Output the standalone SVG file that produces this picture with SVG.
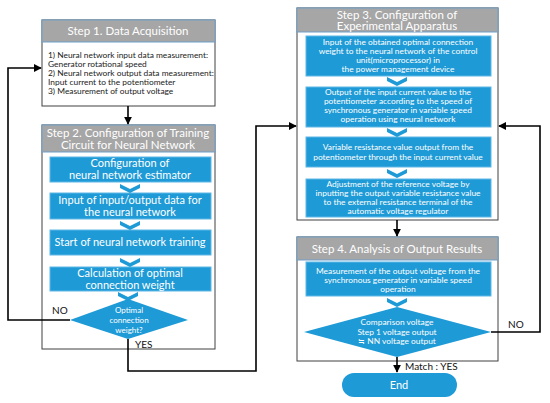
<svg xmlns="http://www.w3.org/2000/svg" width="550" height="403" viewBox="0 0 550 403">
<defs>
<marker id="ah" viewBox="0 0 10 10" refX="9" refY="5" markerWidth="5" markerHeight="5" orient="auto"><path d="M0,0 L10,5 L0,10 z" fill="#000"/></marker>
<style>
.outer{fill:#fff;stroke:#404040;stroke-width:1}
.hdr{fill:#a6a6a6;stroke:#6f9fc8;stroke-width:1}
.ht{font-family:Lato,"Noto Sans",sans-serif;font-size:11.5px;fill:#fff;text-anchor:middle}
.bx{fill:#1e9ad6;stroke:#5fb8e6;stroke-width:1}
.bt{font-family:Lato,"Noto Sans",sans-serif;fill:#fff;text-anchor:middle}
.t2{font-size:11px}
.t3{font-size:8.4px}
.dt{font-family:Lato,"Noto Sans",sans-serif;font-size:8.4px;fill:#222}
.lbl{font-family:Lato,"Noto Sans",sans-serif;font-size:10px;fill:#111}
.chev{fill:#1e9ad6}
.ln{fill:none;stroke:#000;stroke-width:1.6}
</style>
</defs>
<rect width="550" height="403" fill="#fff"/>

<g id="step1">
<rect class="outer" x="42" y="20" width="173" height="86"/>
<rect class="hdr" x="42" y="20" width="173" height="22"/>
<text class="ht" x="128" y="35">Step 1. Data Acquisition</text>
<text class="dt" x="48" y="58">1) Neural network input data measurement:</text>
<text class="dt" x="48" y="67">Generator rotational speed</text>
<text class="dt" x="48" y="76">2) Neural network output data measurement:</text>
<text class="dt" x="48" y="85">Input current to the potentiometer</text>
<text class="dt" x="48" y="94">3) Measurement of output voltage</text>
</g>

<g id="step2">
<rect class="outer" x="42" y="125" width="173" height="224"/>
<rect class="hdr" x="42" y="125" width="173" height="27"/>
<text class="ht" x="128" y="137">Step 2. Configuration of Training</text>
<text class="ht" x="128" y="149">Circuit for Neural Network</text>
</g>
<g id="s2b1"><rect class="bx" x="50" y="157" width="161" height="25"/>
<text class="bt t2" x="130" y="167">Configuration of</text>
<text class="bt t2" x="130" y="179">neural network estimator</text></g>
<g id="s2b2"><rect class="bx" x="50" y="193" width="161" height="26"/>
<text class="bt t2" x="130" y="204">Input of input/output data for</text>
<text class="bt t2" x="130" y="216">the neural network</text></g>
<g id="s2b3"><rect class="bx" x="50" y="230" width="161" height="25"/>
<text class="bt t2" x="130" y="246">Start of neural network training</text></g>
<g id="s2b4"><rect class="bx" x="50" y="267" width="161" height="24"/>
<text class="bt t2" x="130" y="277">Calculation of optimal</text>
<text class="bt t2" x="130" y="289">connection weight</text></g>
<g id="s2d"><polygon class="chev" points="70,320 128,299 188,320 128,339"/>
<text class="bt" x="129" y="313" font-size="8">Optimal</text>
<text class="bt" x="129" y="323" font-size="8">connection</text>
<text class="bt" x="129" y="333" font-size="8">weight?</text></g>

<g id="step3">
<rect class="outer" x="297" y="8" width="201" height="212"/>
<rect class="hdr" x="297" y="8" width="201" height="24"/>
<text class="ht" x="397" y="18.5" font-size="11">Step 3. Configuration of</text>
<text class="ht" x="397" y="30" font-size="11">Experimental Apparatus</text>
</g>
<g id="s3b1"><rect class="bx" x="306" y="36" width="185" height="40"/>
<text class="bt t3" x="398" y="45">Input of the obtained optimal connection</text>
<text class="bt t3" x="398" y="54">weight to the neural network of the control</text>
<text class="bt t3" x="398" y="63">unit(microprocessor) in</text>
<text class="bt t3" x="398" y="72">the power management device</text></g>
<g id="s3b2"><rect class="bx" x="306" y="87" width="185" height="40"/>
<text class="bt t3" x="398" y="95">Output of the input current value to the</text>
<text class="bt t3" x="398" y="104">potentiometer according to the speed of</text>
<text class="bt t3" x="398" y="113">synchronous generator in variable speed</text>
<text class="bt t3" x="398" y="122">operation using neural network</text></g>
<g id="s3b3"><rect class="bx" x="306" y="137" width="185" height="30"/>
<text class="bt t3" x="398" y="150">Variable resistance value output from the</text>
<text class="bt t3" x="398" y="160">potentiometer through the input current value</text></g>
<g id="s3b4"><rect class="bx" x="306" y="179" width="185" height="38"/>
<text class="bt t3" x="398" y="187">Adjustment of the reference voltage by</text>
<text class="bt t3" x="398" y="196">inputting the output variable resistance value</text>
<text class="bt t3" x="398" y="205">to the external resistance terminal of the</text>
<text class="bt t3" x="398" y="214">automatic voltage regulator</text></g>

<g id="step4">
<rect class="outer" x="297" y="237" width="201" height="124"/>
<rect class="hdr" x="297" y="237" width="201" height="23"/>
<text class="ht" x="397" y="253">Step 4. Analysis of Output Results</text>
</g>
<g id="s4b1"><rect class="bx" x="306" y="262" width="185" height="34"/>
<text class="bt t3" x="398" y="274">Measurement of the output voltage from the</text>
<text class="bt t3" x="398" y="283">synchronous generator in variable speed</text>
<text class="bt t3" x="398" y="292">operation</text></g>
<g id="s4d"><polygon class="chev" points="304,332 397,307 491,332 397,357"/>
<text class="bt t3" x="397" y="325">Comparison voltage</text>
<text class="bt t3" x="397" y="335">Step 1  voltage output</text>
<text class="bt t3" x="397" y="344">≒ NN voltage output</text></g>

<g id="end"><rect class="chev" x="342" y="373" width="115" height="24" rx="12"/>
<text class="bt" x="399" y="389" font-size="11">End</text></g>

<g id="chevrons" class="chev">
<polygon points="120,184 130,189 140,184 140,188 130,193 120,188"/>
<polygon points="120,221 130,226 140,221 140,225 130,230 120,225"/>
<polygon points="120,258 130,263 140,258 140,262 130,267 120,262"/>
<polygon points="118,292 128,297 138,292 138,296 128,301 118,296"/>
<polygon points="387,77 397,82 407,77 407,81 397,86 387,81"/>
<polygon points="387,128 397,133 407,128 407,132 397,137 387,132"/>
<polygon points="387,169 397,174 407,169 407,173 397,178 387,173"/>
<polygon points="387,298 397,303 407,298 407,302 397,307 387,302"/>
</g>

<g id="connectors">
<line class="ln" x1="128" y1="106" x2="128" y2="124" marker-end="url(#ah)"/>
<polyline class="ln" points="70,320 8,320 8,68 41,68" marker-end="url(#ah)"/>
<polyline class="ln" points="128,339 128,371 256,371 256,126 296,126" marker-end="url(#ah)"/>
<line class="ln" x1="397" y1="220" x2="397" y2="236" marker-end="url(#ah)"/>
<polyline class="ln" points="491,332 540,332 540,126 499,126" marker-end="url(#ah)"/>
<line class="ln" x1="397" y1="357" x2="397" y2="372" marker-end="url(#ah)"/>
</g>
<g id="labels">
<text class="lbl" x="52" y="314">NO</text>
<text class="lbl" x="135" y="348">YES</text>
<text class="lbl" x="508" y="328">NO</text>
<text class="lbl" x="405" y="370">Match : YES</text>
</g>
</svg>
